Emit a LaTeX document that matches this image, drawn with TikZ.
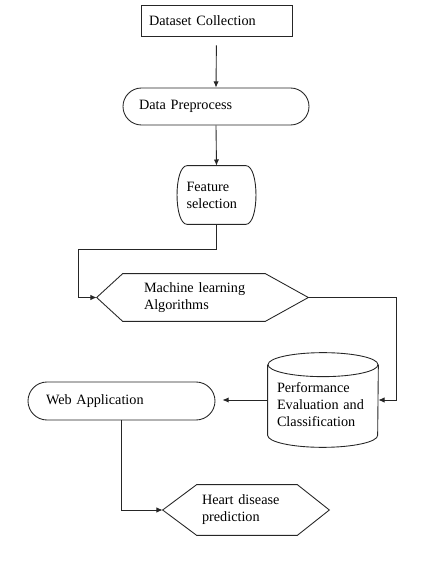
\documentclass[tikz,border=0pt]{standalone}
\usepackage{fontspec}
\setmainfont{Liberation Serif}
\usetikzlibrary{arrows.meta}
\begin{document}
\begin{tikzpicture}[font=\fontsize{8.1}{9.7}\selectfont,
  every node/.style={inner sep=0pt},
  line/.style={line width=0.5pt,draw=black!85},
  flow/.style={line,-{Latex[length=3.5pt,width=3pt]}}]
\useasboundingbox (0,0) rectangle (8.6,11.54);
\node[line,minimum width=3.02cm,minimum height=0.62cm,text width=2.7cm,align=left] (dc) at (4.33,11.13) {Dataset Collection};
\node[line,rounded corners=0.37cm,minimum width=3.72cm,minimum height=0.74cm,text width=3.08cm,align=left] (dp) at (4.32,9.41) {Data Preprocess};
\node[minimum width=1.54cm,minimum height=1.16cm,text width=1.2cm,align=left] (fs) at (4.33,7.64) {Feature\\selection};
\draw[line] ([xshift=0.19cm]fs.north west) -- ([xshift=-0.19cm]fs.north east) .. controls ([xshift=0.08cm]fs.north east) and ([xshift=0.08cm]fs.south east) .. ([xshift=-0.19cm]fs.south east) -- ([xshift=0.19cm]fs.south west) .. controls ([xshift=-0.08cm]fs.south west) and ([xshift=-0.08cm]fs.north west) .. cycle;
\node[minimum width=4.22cm,minimum height=0.94cm,text width=2.34cm,align=left] (ml) at (4.05,5.59) {Machine learning\\Algorithms};
\draw[line] (ml.west) -- ([xshift=0.52cm]ml.north west) -- ([xshift=-0.86cm]ml.north east) -- (ml.east) -- ([xshift=-0.86cm]ml.south east) -- ([xshift=0.52cm]ml.south west) -- cycle;
\node[minimum width=2.2cm,minimum height=1.88cm] (pe) at (6.46,3.54) {};
\node[text width=1.84cm,align=left] (pet) at (6.46,3.44) {Performance\\Evaluation and\\Classification};
\draw[line] ([yshift=-0.24cm]pe.north) ellipse[x radius=1.1cm,y radius=0.24cm];
\draw[line] ([yshift=-0.24cm]pe.north west) -- ([yshift=0.24cm]pe.south west) arc[start angle=180,end angle=360,x radius=1.1cm,y radius=0.24cm] -- ([yshift=-0.24cm]pe.north east);
\node[line,rounded corners=0.38cm,minimum width=3.74cm,minimum height=0.76cm,text width=3.02cm,align=left] (wa) at (2.43,3.52) {Web Application};
\node[minimum width=3.32cm,minimum height=1.0cm,text width=1.76cm,align=left] (hp) at (4.92,1.34) {Heart disease\\prediction};
\draw[line] (hp.west) -- ([xshift=0.68cm]hp.north west) -- ([xshift=-0.64cm]hp.north east) -- (hp.east) -- ([xshift=-0.64cm]hp.south east) -- ([xshift=0.68cm]hp.south west) -- cycle;
% connectors
\draw[flow,shorten <=0.18cm] (dc.south) -- (dp.north);
\draw[flow] (dp.south) -- (fs.north);
\draw[flow] (fs.south) -- ++(0,-0.5) -- ++(-2.77,0) |- (ml.west);
\draw[flow] (ml.east) -- ++(1.76,0) |- (pe.east);
\draw[flow,shorten >=0.14cm] (pe.west) -- (pe.west -| wa.east);
\draw[flow] (wa.south) |- (hp.west);
\end{tikzpicture}
\end{document}
